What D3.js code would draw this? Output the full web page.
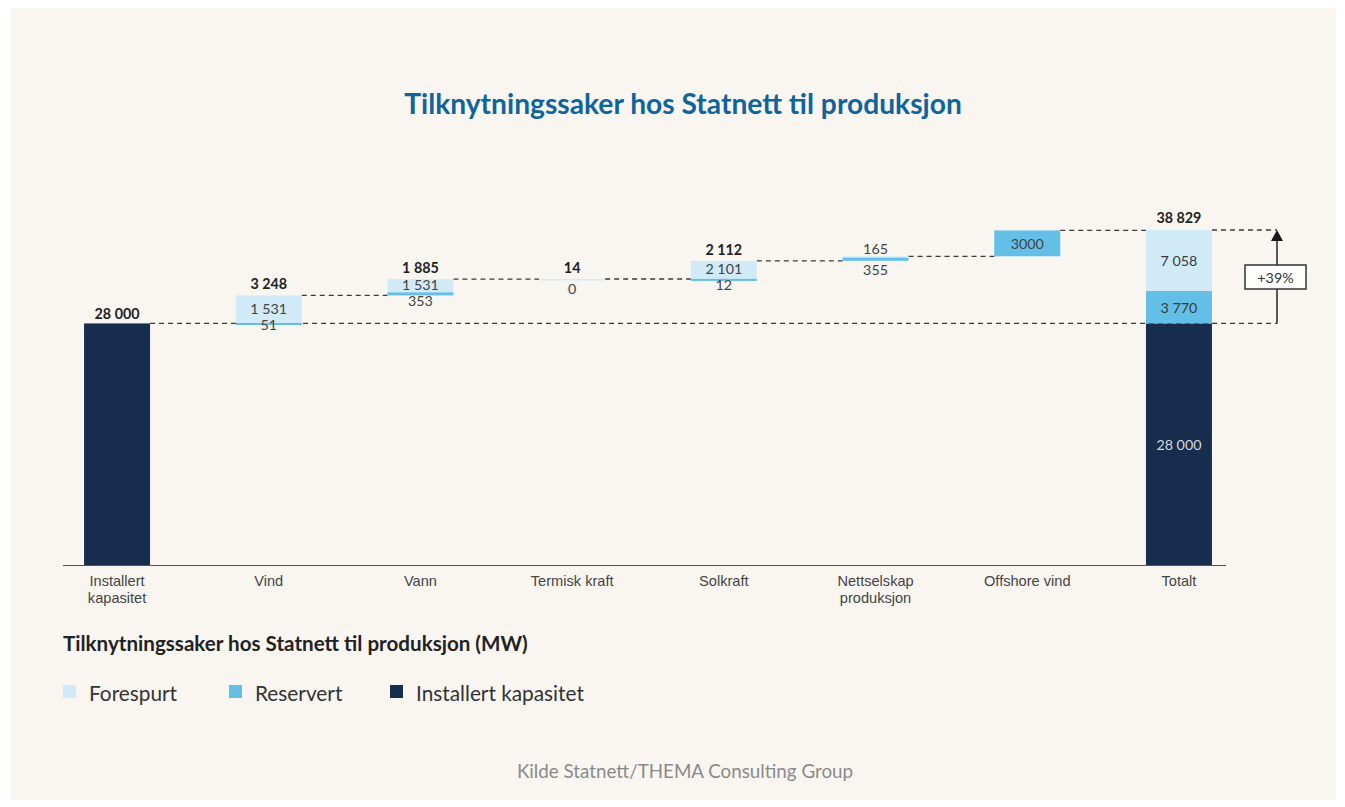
<!DOCTYPE html>
<html><head><meta charset="utf-8">
<script src="https://cdn.jsdelivr.net/npm/d3@7"></script>
<style>
html,body{margin:0;padding:0;background:#ffffff;}
svg{display:block;font-family:Lato,"Open Sans",sans-serif;}
</style></head>
<body>
<svg id="chart" width="1345" height="807"></svg>
<script>
// ---- data ----
const categories = ["Installert kapasitet","Vind","Vann","Termisk kraft","Solkraft","Nettselskap produksjon","Offshore vind","Totalt"];
const installert = 28000;
const stepReservert = [51, 353, 0, 12, 355, 3000];
const stepForespurtLabel = [1531, 1531, 14, 2101, 165, 0];
const stepTotals = [3248, 1885, 14, 2112, 520, 3000];
const showStepTotal = [true, true, true, true, false, false];
const totalReservert = 3770;
const totalForespurt = 7058;
const grandTotal = 38829;
const legendItems = ["Forespurt","Reservert","Installert kapasitet"];

const colors = {Forespurt:"#d0eaf8", Reservert:"#63bfe6", "Installert kapasitet":"#162d4d"};
const VAL_FS = 14.3;

const svg = d3.select("#chart");
svg.append("rect").attr("x",11).attr("y",8).attr("width",1325).attr("height",792).attr("fill","#f9f6f2");

const loc = d3.formatLocale({decimal:",", thousands:"\u00a0", grouping:[3], currency:["",""]});
const fmt = loc.format(",d");

const x = d3.scaleBand().domain(categories).range([41.2,1254.8]).paddingInner(0.565).paddingOuter(0.2825);
const y = d3.scaleLinear().domain([0, grandTotal]).range([565, 230]);
const bw = x.bandwidth();

// title
svg.append("text").attr("x",683).attr("y",114).attr("text-anchor","middle")
  .attr("font-size",28.2).attr("font-weight",700).attr("fill","#10649c")
  .text("Tilknytningssaker hos Statnett til produksjon");

const gLines = svg.append("g");
const gBars = svg.append("g");
const gLabels = svg.append("g");

// compute step levels
let level = installert;
const steps = stepTotals.map((t,i)=>{
  const s = {cat:categories[i+1], start:level, res:stepReservert[i], fore:t-stepReservert[i], total:t,
    foreLabel:stepForespurtLabel[i], showTotal:showStepTotal[i]};
  level += t;
  s.end = level;
  return s;
});

const arrowX = 1277;
// connectors
gLines.append("line").attr("x1",x(categories[0])+bw).attr("x2",arrowX)
  .attr("y1",y(installert)).attr("y2",y(installert));
const levels = [installert].concat(steps.map(s=>s.end));
for(let i=1;i<categories.length-1;i++){
  const lv = levels[i];
  gLines.append("line").attr("x1",x(categories[i])+bw).attr("x2",x(categories[i+1]))
    .attr("y1",y(lv)).attr("y2",y(lv));
}
gLines.append("line").attr("x1",x(categories[7])+bw).attr("x2",arrowX)
  .attr("y1",y(grandTotal)).attr("y2",y(grandTotal));
gLines.selectAll("line").attr("stroke","#3a3a3a").attr("stroke-width",1.3).attr("stroke-dasharray","5,4");

// first bar
gBars.append("rect").attr("x",x(categories[0])).attr("width",bw)
  .attr("y",y(installert)).attr("height",y(0)-y(installert)).attr("fill",colors["Installert kapasitet"]);
gLabels.append("text").attr("class","bold").attr("x",x(categories[0])+bw/2).attr("y",y(installert)-10).text(fmt(installert));

// step bars
steps.forEach(s=>{
  const x0 = x(s.cat), cx = x0+bw/2;
  const yb = y(s.start), yr = y(s.start+s.res), yt = y(s.end);
  if(s.fore>0) gBars.append("rect").attr("x",x0).attr("width",bw).attr("y",yt).attr("height",Math.max(1.5,yr-yt)).attr("fill",colors.Forespurt);
  if(s.res>0) gBars.append("rect").attr("x",x0).attr("width",bw).attr("y",yr).attr("height",Math.max(2,yb-yr)).attr("fill",colors.Reservert);
  if(s.showTotal) gLabels.append("text").attr("class","bold").attr("x",cx).attr("y",yt-11.5).text(fmt(s.total));
  const resH = yb-yr, foreH = yr-yt;
  let foreY = null;
  if(s.res>0 && resH>=12){
    gLabels.append("text").attr("class","reg").attr("x",cx).attr("y",(yr+yb)/2).text(String(s.res));
    return;
  }
  if(s.foreLabel>0 && foreH>=12){
    foreY = (yt+yr)/2-1;
    gLabels.append("text").attr("class","reg").attr("x",cx).attr("y",foreY).text(fmt(s.foreLabel));
  } else if(s.foreLabel>0 && !s.showTotal){
    gLabels.append("text").attr("class","reg").attr("x",cx).attr("y",yt-8).text(fmt(s.foreLabel));
  }
  const resY = foreY!==null ? foreY+16 : yb+9;
  gLabels.append("text").attr("class","reg").attr("x",cx).attr("y",resY).text(fmt(s.res));
});

// total bar
const xt = x(categories[7]), cxt = xt+bw/2;
const segs = [
  {k:"Installert kapasitet", a:0, b:installert, v:installert, c:"#d5d9df"},
  {k:"Reservert", a:installert, b:installert+totalReservert, v:totalReservert, c:"#3a3a3a"},
  {k:"Forespurt", a:installert+totalReservert, b:grandTotal, v:totalForespurt, c:"#3a3a3a"}
];
segs.forEach(sg=>{
  gBars.append("rect").attr("x",xt).attr("width",bw).attr("y",y(sg.b)).attr("height",y(sg.a)-y(sg.b)).attr("fill",colors[sg.k]);
  gLabels.append("text").attr("class","reg").attr("x",cxt).attr("y",(y(sg.a)+y(sg.b))/2).attr("fill",sg.c).text(fmt(sg.v));
});
gLabels.append("text").attr("class","bold").attr("x",cxt).attr("y",y(grandTotal)-12.5).text(fmt(grandTotal));

gLabels.selectAll("text").attr("text-anchor","middle").attr("dominant-baseline","central").attr("font-size",VAL_FS);
gLabels.selectAll("text.bold").attr("font-weight",700).attr("fill","#222");
gLabels.selectAll("text.reg").each(function(){ if(!this.getAttribute("fill")) this.setAttribute("fill","#444"); });

// arrow + pct box
const pct = Math.round((grandTotal/installert-1)*100);
svg.append("line").attr("x1",arrowX).attr("x2",arrowX).attr("y1",y(installert)).attr("y2",y(grandTotal)+10)
  .attr("stroke","#333").attr("stroke-width",1.6);
svg.append("path").attr("d",`M${arrowX},${y(grandTotal)} l-6,11 l12,0 z`).attr("fill","#1a1a1a");
svg.append("rect").attr("x",arrowX-32).attr("y",265).attr("width",61).attr("height",24)
  .attr("fill","#fff").attr("stroke","#333").attr("stroke-width",1.5);
svg.append("text").attr("x",arrowX-1.5).attr("y",277).attr("text-anchor","middle").attr("dominant-baseline","central")
  .attr("font-size",VAL_FS).attr("fill","#333").text("+" + pct + "%");

// x axis
svg.append("line").attr("x1",63).attr("x2",1226).attr("y1",565.5).attr("y2",565.5).attr("stroke","#555").attr("stroke-width",1.2);
const ax = svg.append("g").attr("transform","translate(0,565)")
  .call(d3.axisBottom(x).tickSize(0).tickPadding(0).tickFormat(""));
ax.select(".domain").remove();
ax.selectAll(".tick").each(function(d){
  const t = d3.select(this).append("text").attr("fill","#444").attr("font-size",14.6).attr("text-anchor","middle");
  const lines = d.length>14 ? d.split(" ") : [d];
  lines.forEach((ln,i)=>t.append("tspan").attr("x",0).attr("y",21+i*17).text(ln));
});

// subtitle + legend
svg.append("text").attr("x",63).attr("y",651).attr("font-size",20.6).attr("font-weight",700).attr("fill","#222")
  .text("Tilknytningssaker hos Statnett til produksjon (MW)");
const legX = [63, 229, 390];
const lg = svg.append("g").selectAll("g").data(legendItems).join("g")
  .attr("transform",(d,i)=>`translate(${legX[i]},685)`);
lg.append("rect").attr("width",13).attr("height",13).attr("fill",d=>colors[d]);
lg.append("text").attr("x",26).attr("y",7).attr("dominant-baseline","central").attr("font-size",20.8).attr("fill","#333").text(d=>d);

// footer
svg.append("text").attr("x",685).attr("y",778).attr("text-anchor","middle").attr("font-size",18.8).attr("fill","#8a8a8a")
  .text("Kilde Statnett/THEMA Consulting Group");
</script>
</body></html>
